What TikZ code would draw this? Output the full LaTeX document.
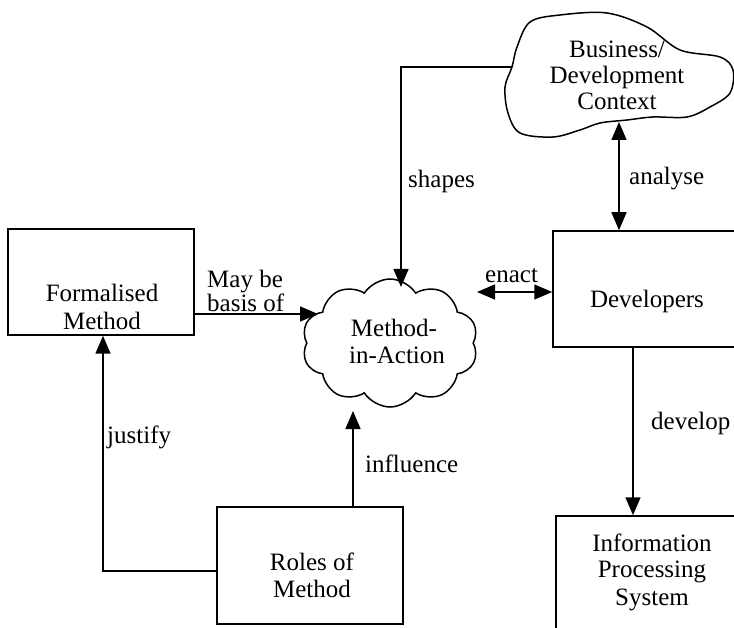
\documentclass[tikz,border=0pt]{standalone}
\usepackage{fontspec}
\setmainfont{Liberation Serif}
\usetikzlibrary{arrows.meta,shapes.symbols}
\begin{document}
\begin{tikzpicture}[x=1pt,y=-1pt,
  font=\fontsize{25}{27}\selectfont,
  box/.style={draw,line width=1.5pt,inner sep=0pt},
  txt/.style={inner sep=0pt,anchor=base},
  lbl/.style={inner sep=0pt,anchor=base west},
  conn/.style={line width=1.5pt},
  tip/.style={-{Triangle[width=15pt,length=18pt]}},
  tips/.style={{Triangle[width=15pt,length=18pt]}-{Triangle[width=15pt,length=18pt]}}]
\useasboundingbox (0,0) rectangle (734,628);
\clip (0,0) rectangle (734,628);

% rectangular boxes
\node[box,minimum width=186pt,minimum height=106pt] (fm) at (101,282) {};
\node[box,minimum width=186pt,minimum height=117pt] (rm) at (310,565.5) {};
\node[box,minimum width=192pt,minimum height=116pt] (dev) at (649,289) {};
\node[box,minimum width=189pt,minimum height=124pt] (ips) at (650.5,578) {};

% box texts
\node[txt] (fmA) at (102,302) {Formalised};
\node[txt] (fmB) at (102,330) {Method};
\node[txt] (rmA) at (312,570) {Roles of};
\node[txt] (rmB) at (312,597) {Method};
\node[txt] (devA) at (647,308) {Developers};
\node[txt] (ipsA) at (652,551) {Information};
\node[txt] (ipsB) at (652,577) {Processing};
\node[txt] (ipsC) at (652,605) {System};

% method-in-action cloud
\node[draw,cloud,cloud puffs=10,cloud puff arc=115,aspect=1.35,
      line width=1.5pt,minimum width=176pt,minimum height=128pt,inner sep=0pt]
      (mia) at (390,343) {};
\node[txt] (miaA) at (394,337) {Method-};
\node[txt] (miaB) at (397,363) {in-Action};

% business / development context blob
\draw[line width=1.5pt] plot[smooth cycle,tension=0.55] coordinates {
  (512,67) (517,47) (530,22) (560,15) (607,13) (647,27) (680,50) (720,57)
  (733,70) (730,93) (710,107) (687,117) (653,117) (627,120) (600,123)
  (580,130) (553,137) (520,133) (508,113) (505,87)};
\node[txt] (bizA) at (617,58) {Business/};
\node[txt] (bizB) at (617,84) {Development};
\node[txt] (bizC) at (617,110) {Context};

% attachment points on the clouds
\coordinate (bizW) at (512,67);
\coordinate (bizS) at (619,122);
\coordinate (miaL) at (318,314);
\coordinate (miaT) at (401,287);
\coordinate (miaR) at (477,292);
\coordinate (miaB) at (353,411);
\coordinate (shC) at (401,67);
\coordinate (jC) at (103,571);
\coordinate (dvX) at (633,400);

% connectors
\draw[conn,tip] (fm.east |- miaL) -- (miaL);
\draw[conn,tip] (rm.west |- jC) -- (jC) -- (fm.south -| jC);
\draw[conn,tip] (rm.north -| miaB) -- (miaB);
\draw[conn,tip] (bizW) -- (shC) -- (miaT);
\draw[conn,tips] (bizS) -- (dev.north -| bizS);
\draw[conn,tips] (miaR) -- (dev.west |- miaR);
\draw[conn,tip] (dev.south -| dvX) -- (ips.north -| dvX);

% connector labels
\node[lbl] (lMay) at (207,288) {May be};
\node[lbl] (lBasis) at (207,312) {basis of};
\node[lbl] (lShapes) at (408,188) {shapes};
\node[lbl] (lAnalyse) at (629,185) {analyse};
\node[lbl] (lEnact) at (485,283) {enact};
\node[lbl] (lJustify) at (107,443) {justify};
\node[lbl] (lInfluence) at (365,472) {influence};
\node[lbl] (lDevelop) at (651,429) {develop};
\end{tikzpicture}
\end{document}
